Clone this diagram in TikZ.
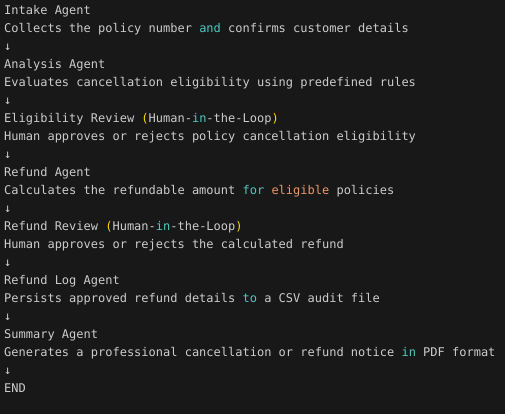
\documentclass[tikz,border=0pt]{standalone}
\usepackage{fontspec}
\setmonofont{DejaVu Sans Mono}
\definecolor{bgc}{HTML}{181818}
\definecolor{txt}{HTML}{CCCCCC}
\definecolor{kw}{HTML}{4EC9C0}
\definecolor{org}{HTML}{E9976A}
\definecolor{par}{HTML}{FFD700}
\newcommand{\kwd}[1]{\textcolor{kw}{#1}}
\begin{document}
\begin{tikzpicture}[x=1pt,y=1pt,
  ln/.style={anchor=base west,inner sep=0pt,text=txt,font=\ttfamily\fontsize{12}{18}\selectfont}]
\fill[bgc] (0,0) rectangle (505,414);
\useasboundingbox (0,0) rectangle (505,414);
\node[ln] (l1) at (4,399) {Intake Agent};
\node[ln] (l2) at (4,381) {Collects the policy number \kwd{and} confirms customer details};
\node[ln] (l3) at (4,363) {↓};
\node[ln] (l4) at (4,345) {Analysis Agent};
\node[ln] (l5) at (4,327) {Evaluates cancellation eligibility using predefined rules};
\node[ln] (l6) at (4,309) {↓};
\node[ln] (l7) at (4,291) {Eligibility Review \textcolor{par}{(}Human-\kwd{in}-the-Loop\textcolor{par}{)}};
\node[ln] (l8) at (4,273) {Human approves or rejects policy cancellation eligibility};
\node[ln] (l9) at (4,255) {↓};
\node[ln] (l10) at (4,237) {Refund Agent};
\node[ln] (l11) at (4,219) {Calculates the refundable amount \kwd{for} \textcolor{org}{eligible} policies};
\node[ln] (l12) at (4,201) {↓};
\node[ln] (l13) at (4,183) {Refund Review \textcolor{par}{(}Human-\kwd{in}-the-Loop\textcolor{par}{)}};
\node[ln] (l14) at (4,165) {Human approves or rejects the calculated refund};
\node[ln] (l15) at (4,147) {↓};
\node[ln] (l16) at (4,129) {Refund Log Agent};
\node[ln] (l17) at (4,111) {Persists approved refund details \kwd{to} a CSV audit file};
\node[ln] (l18) at (4,93) {↓};
\node[ln] (l19) at (4,75) {Summary Agent};
\node[ln] (l20) at (4,57) {Generates a professional cancellation or refund notice \kwd{in} PDF format};
\node[ln] (l21) at (4,39) {↓};
\node[ln] (l22) at (4,21) {END};
\end{tikzpicture}
\end{document}
